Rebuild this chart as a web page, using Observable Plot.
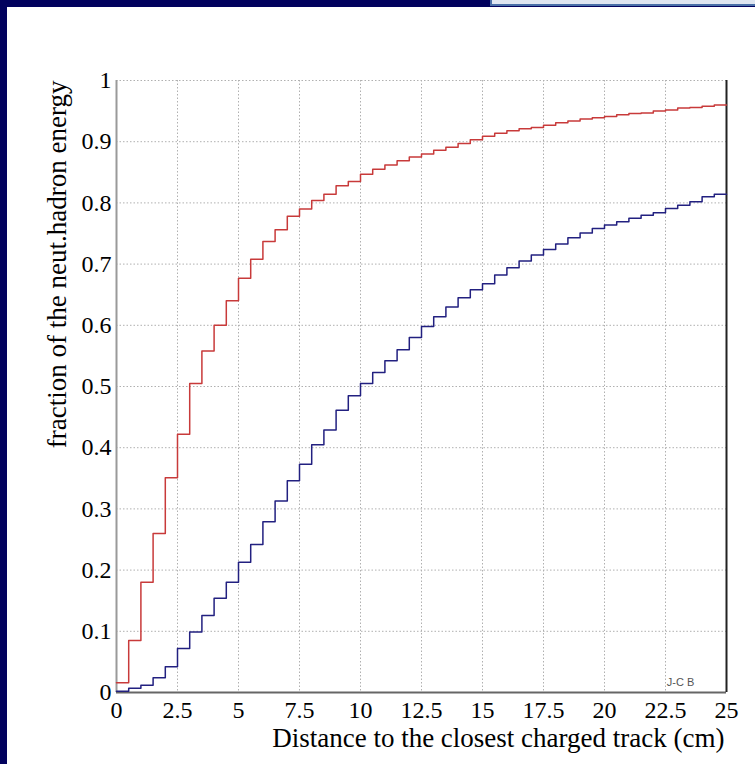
<!DOCTYPE html>
<html><head><meta charset="utf-8">
<script src="https://cdn.jsdelivr.net/npm/d3@7"></script>
<script src="https://cdn.jsdelivr.net/npm/@observablehq/plot@0.6"></script>
<style>
html,body{margin:0;padding:0;}
body{width:755px;height:764px;background:#02025e;position:relative;overflow:hidden;}
#paper{position:absolute;left:7px;top:7px;width:748px;height:757px;background:#fff;}
#tab{position:absolute;left:490px;top:0;width:263px;height:4px;background:#dfe6f1;border-left:2px solid #4a6fa8;border-bottom:2px solid #4a6fa8;}
#chart{position:absolute;left:0;top:0;}
</style></head><body>
<div id="paper"></div><div id="tab"></div><div id="chart"></div>
<script>
const xTicks = [0, 2.5, 5, 7.5, 10, 12.5, 15, 17.5, 20, 22.5, 25];
const xTickLabels = ["0", "2.5", "5", "7.5", "10", "12.5", "15", "17.5", "20", "22.5", "25"];
const yTicks = [0, 0.1, 0.2, 0.3, 0.4, 0.5, 0.6, 0.7, 0.8, 0.9, 1];
const yTickLabels = ["0", "0.1", "0.2", "0.3", "0.4", "0.5", "0.6", "0.7", "0.8", "0.9", "1"];
const xTitle = "Distance to the closest charged track (cm)";
const yTitle = "fraction of the neut.hadron energy";
const creditText = "J-C B";
const creditPos = [22.55, 0.016];

// cumulative fraction per 0.5 cm bin (50 bins from 0 to 25 cm)
const redValues = [
  0.016, 0.085, 0.180, 0.260, 0.351, 0.422, 0.505, 0.558, 0.600, 0.640,
  0.677, 0.708, 0.737, 0.756, 0.778, 0.790, 0.804, 0.814, 0.828, 0.835,
  0.847, 0.855, 0.862, 0.869, 0.875, 0.880, 0.886, 0.891, 0.897, 0.903,
  0.909, 0.914, 0.918, 0.921, 0.923, 0.927, 0.931, 0.934, 0.937, 0.939,
  0.941, 0.944, 0.946, 0.947, 0.950, 0.952, 0.955, 0.956, 0.958, 0.960
];
const blueValues = [
  0.002, 0.007, 0.012, 0.024, 0.042, 0.072, 0.099, 0.126, 0.154, 0.180,
  0.213, 0.242, 0.279, 0.313, 0.346, 0.373, 0.405, 0.429, 0.461, 0.485,
  0.505, 0.523, 0.542, 0.560, 0.580, 0.598, 0.614, 0.630, 0.645, 0.658,
  0.668, 0.682, 0.694, 0.705, 0.715, 0.724, 0.733, 0.743, 0.751, 0.758,
  0.764, 0.769, 0.775, 0.780, 0.784, 0.791, 0.796, 0.802, 0.810, 0.814
];

const binEdges = d3.range(0, 25.0001, 0.5);
function steps(vals) {
  return binEdges.map((e, i) => ({x: e, y: vals[Math.min(i, vals.length - 1)]}));
}
const xLab = new Map(xTicks.map((t, i) => [t, xTickLabels[i]]));
const yLab = new Map(yTicks.map((t, i) => [t, yTickLabels[i]]));

const chart = Plot.plot({
  width: 755, height: 764,
  marginLeft: 116, marginRight: 29, marginTop: 80, marginBottom: 72,
  style: {background: "transparent", fontFamily: "'Liberation Serif', 'Times New Roman', serif", fontSize: "24px", color: "#000"},
  x: {domain: [0, 25], ticks: xTicks, tickFormat: d => xLab.get(d), tickSize: 0, tickPadding: 8, label: null},
  y: {domain: [0, 1], ticks: yTicks, tickFormat: d => yLab.get(d), tickSize: 0, tickPadding: 5, label: null},
  marks: [
    Plot.ruleX(xTicks.slice(1, -1), {stroke: "#b0b0b0", strokeDasharray: "1.5,2"}),
    Plot.ruleY(yTicks.slice(1), {stroke: "#b0b0b0", strokeDasharray: "1.5,2"}),
    Plot.ruleX([0], {stroke: "#9a9a9a", strokeWidth: 2}),
    Plot.ruleY([0], {stroke: "#666", strokeWidth: 2}),
    Plot.ruleX([25], {stroke: "#222", strokeWidth: 2}),
    Plot.line(steps(redValues), {x: "x", y: "y", curve: "step-after", stroke: "#c83a3a", strokeWidth: 1.5}),
    Plot.line(steps(blueValues), {x: "x", y: "y", curve: "step-after", stroke: "#222080", strokeWidth: 1.5}),
    Plot.text([creditText], {x: () => creditPos[0], y: () => creditPos[1], text: d => d, textAnchor: "start", fontFamily: "'Liberation Sans', Arial, sans-serif", fontSize: 11, fill: "#555"}),
    Plot.text([xTitle], {frameAnchor: "bottom-right", dx: -2, dy: 54, text: d => d, textAnchor: "end", fontSize: 27}),
    Plot.text([yTitle], {frameAnchor: "top-left", dx: -70, rotate: -90, text: d => d, textAnchor: "end", fontSize: 27})
  ]
});
document.getElementById("chart").appendChild(chart);
</script></body></html>
